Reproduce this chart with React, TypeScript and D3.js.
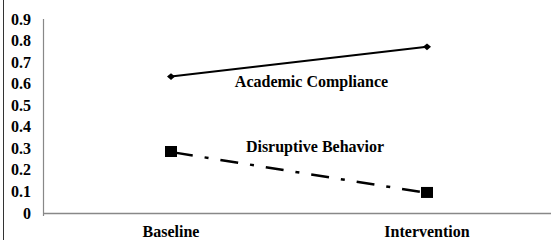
import React from "react";
import * as d3 from "d3";

const categories = ["Baseline", "Intervention"];
const academicCompliance = [0.633, 0.771];
const disruptiveBehavior = [0.283, 0.093];
const yTicks = [0, 0.1, 0.2, 0.3, 0.4, 0.5, 0.6, 0.7, 0.8, 0.9];
const seriesLabels = ["Academic Compliance", "Disruptive Behavior"];

const W = 551;
const H = 240;
const FONT = "'Liberation Serif', 'Times New Roman', serif";

export default function App() {
  const x = d3.scalePoint<string>().domain(categories).range([43, 555]).padding(0.5);
  const y = d3.scaleLinear().domain([0, 0.9]).range([213, 19]);
  const line = d3
    .line<number>()
    .x((_, i) => x(categories[i]) as number)
    .y((d) => y(d));
  const diamondType = (d3 as any).symbolDiamond2 || d3.symbolDiamond;
  const diamond = d3.symbol(diamondType, 41)() as string;

  return (
    <svg
      width={W}
      height={H}
      style={{ position: "absolute", left: 0, top: 0, background: "#fff" }}
      fontFamily={FONT}
      fontWeight="bold"
    >
      <rect x={0} y={0} width={W} height={H} fill="#fff" />
      <line x1={3.5} x2={3.5} y1={0} y2={H} stroke="#333" strokeWidth={1} />
      {/* y axis */}
      <line x1={43.5} x2={43.5} y1={y(0.9)} y2={216} stroke="#888" strokeWidth={1.2} />
      {/* x axis */}
      <line x1={43} x2={W} y1={213.5} y2={213.5} stroke="#888" strokeWidth={1.5} />
      {yTicks.map((t) => (
        <text key={t} x={31} y={y(t)} dy="0.35em" textAnchor="end" fontSize={16} fill="#000">
          {t === 0 ? "0" : t.toFixed(1)}
        </text>
      ))}
      {categories.map((c) => (
        <text key={c} x={x(c)} y={237} textAnchor="middle" fontSize={16} fill="#000">
          {c}
        </text>
      ))}
      <path d={line(academicCompliance) as string} fill="none" stroke="#000" strokeWidth={2} />
      {academicCompliance.map((v, i) => (
        <path key={i} d={diamond} transform={`translate(${x(categories[i])},${y(v)}) scale(1,0.85)`} fill="#000" />
      ))}
      <path
        d={line(disruptiveBehavior) as string}
        fill="none"
        stroke="#000"
        strokeWidth={2.5}
        strokeDasharray="18,12,4,12"
        strokeDashoffset={-4}
      />
      {disruptiveBehavior.map((v, i) => (
        <rect
          key={i}
          x={(x(categories[i]) as number) - 6}
          y={y(v) - 6}
          width={12}
          height={11}
          fill="#000"
        />
      ))}
      <text x={311.5} y={87} textAnchor="middle" fontSize={16} fill="#000">
        {seriesLabels[0]}
      </text>
      <text x={315} y={152} textAnchor="middle" fontSize={16} fill="#000">
        {seriesLabels[1]}
      </text>
    </svg>
  );
}
